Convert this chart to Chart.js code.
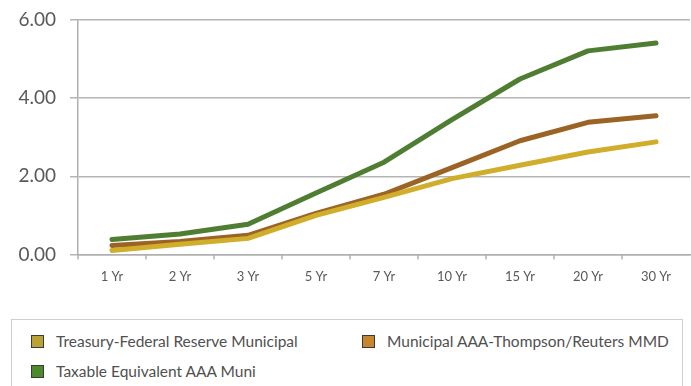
<!DOCTYPE html>
<html>
<head>
<meta charset="utf-8">
<script src="https://cdn.jsdelivr.net/npm/chart.js@4"></script>
<style>
  body { margin: 0; background: #fff; font-family: Lato, "Open Sans", sans-serif; }
  #wrap { position: absolute; left: 0; top: 0; width: 691px; height: 294px; }
  #legend {
    position: absolute; left: 11px; top: 319px; width: 672px; height: 80px;
    border: 1.5px solid #cfcfcf; box-sizing: border-box;
  }
  .item { position: absolute; font-size: 15.5px; color: #505050; white-space: nowrap; line-height: 16px; }
  .item span.box {
    display: inline-block; width: 11px; height: 11px; border: 1px solid #3a3a3a;
    vertical-align: -1px; margin-right: 12px;
  }
</style>
</head>
<body>
<div id="wrap"><canvas id="yieldChart"></canvas></div>
<div id="legend"></div>
<script>
const maturities = ['1 Yr', '2 Yr', '3 Yr', '5 Yr', '7 Yr', '10 Yr', '15 Yr', '20 Yr', '30 Yr'];
const treasuryMuni = [0.10, 0.26, 0.41, 1.00, 1.46, 1.94, 2.28, 2.62, 2.88];
const mmdAAA = [0.23, 0.33, 0.49, 1.05, 1.54, 2.22, 2.91, 3.38, 3.55];
const taxableEquiv = [0.38, 0.52, 0.77, 1.57, 2.36, 3.45, 4.49, 5.21, 5.41];
const yTicks = [0, 2, 4, 6];

const series = [
  { label: 'Treasury-Federal Reserve Municipal', data: treasuryMuni, line: '#d0ad2b', box: '#b9a334' },
  { label: 'Municipal AAA-Thompson/Reuters MMD', data: mmdAAA, line: '#9b6425', box: '#c7862d' },
  { label: 'Taxable Equivalent AAA Muni', data: taxableEquiv, line: '#4f7d32', box: '#4e8a2b' }
];

const ctx = document.getElementById('yieldChart').getContext('2d');
const yieldChart = new Chart(ctx, {
  type: 'line',
  data: {
    labels: maturities,
    datasets: series.map(s => ({
      label: s.label,
      data: s.data,
      borderColor: s.line,
      backgroundColor: s.line,
      borderWidth: 5,
      borderCapStyle: 'round',
      borderJoinStyle: 'round',
      pointRadius: 0,
      tension: 0
    }))
  },
  options: {
    responsive: true,
    maintainAspectRatio: false,
    animation: false,
    layout: { padding: { top: 20, right: 1, left: 0, bottom: 0 } },
    plugins: { legend: { display: false }, tooltip: { enabled: false } },
    scales: {
      x: {
        offset: true,
        grid: { display: false, tickLength: 6 },
        border: { color: '#b0b0b0', width: 1.5 },
        ticks: { color: '#595959', font: { family: 'Lato', size: 13 }, padding: 9 }
      },
      y: {
        min: 0, max: 6,
        afterBuildTicks: axis => { axis.ticks = yTicks.map(v => ({ value: v })); },
        grid: { color: '#b4b4b4', lineWidth: 1.5, tickLength: 8 },
        border: { color: '#b0b0b0', width: 1.5 },
        ticks: {
          color: '#595959', font: { family: 'Lato', size: 19 }, padding: 14,
          callback: v => v.toFixed(2)
        },
        afterFit: axis => {
          axis.width = 78;
          axis.paddingTop = 0;
          axis.paddingBottom = 0;
        }
      }
    }
  },
  plugins: [{
    // small tick marks between categories on the x axis
    id: 'catTicks',
    afterDraw(chart) {
      const x = chart.scales.x, c = chart.ctx, a = chart.chartArea;
      const step = x.getPixelForValue(1) - x.getPixelForValue(0);
      c.save();
      c.strokeStyle = '#b0b0b0';
      c.lineWidth = 1.5;
      for (let i = 0; i < maturities.length; i++) {
        const px = x.getPixelForValue(i) - step / 2;
        c.beginPath();
        c.moveTo(px, a.bottom);
        c.lineTo(px, a.bottom + 5);
        c.stroke();
      }
      c.restore();
    }
  }]
});

const legend = document.getElementById('legend');
const spots = [[19, 13], [350, 13], [19, 43]];
series.forEach((s, i) => {
  const d = document.createElement('div');
  d.className = 'item';
  d.style.left = spots[i][0] + 'px';
  d.style.top = spots[i][1] + 'px';
  d.innerHTML = '<span class="box" style="background:' + s.box + '"></span>' + s.label;
  legend.appendChild(d);
});
</script>
</body>
</html>
